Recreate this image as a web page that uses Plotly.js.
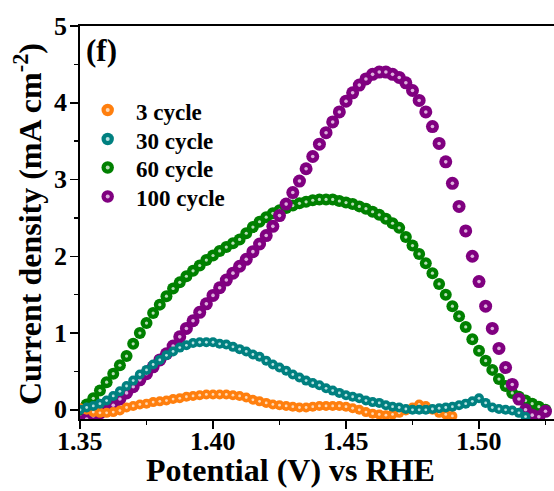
<!DOCTYPE html>
<html>
<head>
<meta charset="utf-8">
<script src="https://cdn.plot.ly/plotly-3.0.1.min.js"></script>
<style>html,body{margin:0;padding:0;background:#fff;}#chart{width:554px;height:491px;}</style>
</head>
<body>
<div id="chart"></div>
<script>
// Potential (V vs RHE)
const potential = [1.3500,1.3525,1.3550,1.3575,1.3600,1.3625,1.3650,1.3675,1.3700,1.3725,
1.3750,1.3775,1.3800,1.3825,1.3850,1.3875,1.3900,1.3925,1.3950,1.3975,
1.4000,1.4025,1.4050,1.4075,1.4100,1.4125,1.4150,1.4175,1.4200,1.4225,
1.4250,1.4275,1.4300,1.4325,1.4350,1.4375,1.4400,1.4425,1.4450,1.4475,
1.4500,1.4525,1.4550,1.4575,1.4600,1.4625,1.4650,1.4675,1.4700,1.4725,
1.4750,1.4775,1.4800,1.4825,1.4850,1.4875,1.4900,1.4925,1.4950,1.4975,
1.5000,1.5025,1.5050,1.5075,1.5100,1.5125,1.5150,1.5175,1.5200,1.5225,1.5250];

const seriesNames = ["3 cycle","30 cycle","60 cycle","100 cycle"];
const seriesColors = ["#ff7f0e","#008080","#008000","#800080"];

// 3 cycle
const cycle3 = [0.02,0.00,-0.03,-0.04,-0.04,-0.03,-0.01,0.03,0.05,0.07,
0.08,0.10,0.11,0.12,0.14,0.15,0.17,0.18,0.19,0.20,
0.20,0.20,0.20,0.19,0.18,0.16,0.13,0.11,0.09,0.07,
0.06,0.05,0.04,0.03,0.03,0.04,0.05,0.05,0.05,0.05,
0.04,0.02,0.00,-0.03,-0.05,-0.06,-0.07,-0.06,-0.04,-0.01,
0.03,0.07,0.05,0.00,-0.04,-0.06,-0.08];

// 30 cycle
const cycle30 = [0.00,0.03,0.05,0.08,0.12,0.18,0.24,0.31,0.38,0.46,
0.52,0.59,0.65,0.71,0.76,0.81,0.84,0.87,0.88,0.88,
0.88,0.86,0.85,0.82,0.79,0.76,0.72,0.69,0.64,0.59,
0.55,0.51,0.46,0.42,0.38,0.35,0.32,0.28,0.25,0.22,
0.19,0.17,0.15,0.12,0.10,0.09,0.06,0.04,0.03,0.01,
0.00,0.00,0.00,0.01,0.02,0.03,0.04,0.06,0.08,0.11,
0.15,0.09,0.03,0.01,0.00,-0.01,-0.04,-0.09];

// 60 cycle
const cycle60 = [0.00,0.07,0.15,0.25,0.36,0.47,0.58,0.70,0.86,1.00,
1.13,1.26,1.37,1.48,1.58,1.66,1.74,1.81,1.88,1.95,
2.01,2.07,2.12,2.17,2.22,2.30,2.38,2.45,2.51,2.56,
2.60,2.63,2.66,2.69,2.71,2.73,2.74,2.74,2.74,2.72,
2.70,2.68,2.65,2.62,2.58,2.54,2.49,2.43,2.37,2.25,
2.14,2.03,1.91,1.78,1.64,1.50,1.35,1.22,1.08,0.92,
0.77,0.64,0.52,0.40,0.31,0.22,0.17,0.12,0.08,0.04,0.00];

// 100 cycle
const cycle100 = [-0.16,-0.12,-0.08,-0.04,-0.01,0.06,0.14,0.22,0.30,0.39,
0.47,0.56,0.65,0.73,0.83,0.95,1.06,1.16,1.27,1.38,
1.49,1.59,1.69,1.78,1.87,1.96,2.06,2.16,2.27,2.39,
2.53,2.68,2.83,2.98,3.14,3.30,3.46,3.61,3.75,3.88,
4.02,4.13,4.23,4.31,4.37,4.40,4.40,4.37,4.33,4.26,
4.16,4.03,3.88,3.69,3.47,3.23,2.95,2.65,2.33,2.00,
1.67,1.35,1.06,0.80,0.55,0.33,0.14,0.00,-0.07,-0.09,-0.02];

const xTickVals = [1.35,1.40,1.45,1.50];
const xTickText = ["1.35","1.40","1.45","1.50"];
const yTickVals = [0,1,2,3,4,5];
const yTickText = ["0","1","2","3","4","5"];
const xTitle = "Potential (V) vs RHE";
const yTitle = "Current density (mA cm<sup>-2</sup>)";
const panelLabel = "(f)";

const allY = [cycle3, cycle30, cycle60, cycle100];
const markerSizes = [10, 10, 12, 13];
const hlSizes = [2.8, 2.8, 3.2, 3.6];
const hlColors = ["rgba(255,240,225,0.8)","rgba(230,250,250,0.8)","rgba(230,245,230,0.8)","rgba(245,220,245,0.8)"];
const drawOrder = [2, 3, 0, 1];

const FONT = "Liberation Serif, Times New Roman, serif";
const traces = [];
drawOrder.forEach(i => {
  const ys = allY[i];
  const xs = potential.slice(0, ys.length);
  traces.push({x: xs, y: ys, type: 'scatter', mode: 'markers', name: seriesNames[i],
    marker: {color: seriesColors[i], size: markerSizes[i], line: {width: 0}},
    showlegend: false, hoverinfo: 'skip'});
  traces.push({x: xs, y: ys, type: 'scatter', mode: 'markers',
    marker: {color: hlColors[i], size: hlSizes[i], line: {width: 0}},
    showlegend: false, hoverinfo: 'skip'});
});

// custom legend in pixel positions converted to paper coords
const L = 80, T = 26, W = 474, H = 393;
const px2x = p => (p - L) / W;
const py2y = p => 1 - (p - T) / H;
const legendRows = [110, 139, 167.5, 196.5];
const shapes = [];
const annotations = [];
seriesNames.forEach((name, i) => {
  const r = 6.2;
  shapes.push({type: 'circle', xref: 'paper', yref: 'paper', xsizemode: 'pixel', ysizemode: 'pixel',
    xanchor: px2x(107.7), yanchor: py2y(legendRows[i]), x0: -r, x1: r, y0: -r, y1: r,
    fillcolor: seriesColors[i], line: {width: 0}});
  shapes.push({type: 'circle', xref: 'paper', yref: 'paper', xsizemode: 'pixel', ysizemode: 'pixel',
    xanchor: px2x(107.7), yanchor: py2y(legendRows[i]), x0: -2, x1: 2, y0: -2, y1: 2,
    fillcolor: hlColors[i], line: {width: 0}});
  annotations.push({xref: 'paper', yref: 'paper', x: px2x(134), y: py2y(legendRows[i] + 2),
    xanchor: 'left', yanchor: 'middle', showarrow: false, text: '<b>' + name + '</b>',
    font: {family: FONT, size: 23, color: '#000'}});
});
annotations.push({xref: 'paper', yref: 'paper', x: px2x(84), y: py2y(50), xanchor: 'left', yanchor: 'middle',
  showarrow: false, text: '<b>' + panelLabel + '</b>', font: {family: FONT, size: 31, color: '#000'}});
// tick labels placed at reference offsets
xTickVals.forEach((v, i) => {
  annotations.push({xref: 'x', yref: 'paper', x: v, y: py2y(442), xanchor: 'center', yanchor: 'middle',
    showarrow: false, borderpad: 0, text: '<b>' + xTickText[i] + '</b>', font: {family: FONT, size: 26, color: '#000'}});
});
yTickVals.forEach((v, i) => {
  annotations.push({xref: 'paper', yref: 'y', x: px2x(68), y: v, xanchor: 'right', yanchor: 'middle',
    showarrow: false, borderpad: 0, text: '<b>' + yTickText[i] + '</b>', font: {family: FONT, size: 26, color: '#000'}});
});
// axis titles placed at the reference pixel positions
annotations.push({xref: 'paper', yref: 'paper', x: px2x(290), y: py2y(470), xanchor: 'center', yanchor: 'middle',
  showarrow: false, borderpad: 0, text: '<b>' + xTitle + '</b>', font: {family: FONT, size: 32, color: '#000'}});
annotations.push({xref: 'paper', yref: 'paper', x: px2x(28), y: py2y(224), xanchor: 'center', yanchor: 'middle',
  textangle: -90, showarrow: false, borderpad: 0, text: '<b>' + yTitle + '</b>', font: {family: FONT, size: 32, color: '#000'}});

const layout = {
  width: 554, height: 491,
  margin: {l: L, r: 0, t: T, b: 491 - T - H},
  paper_bgcolor: '#fff', plot_bgcolor: '#fff',
  showlegend: false,
  font: {family: FONT, color: '#000'},
  xaxis: {
    range: [1.35, 1.35 + 0.05 * W / 133], showgrid: false, zeroline: false,
    tickvals: xTickVals, showticklabels: false,
    ticks: 'outside', ticklen: 8, tickwidth: 1.5, tickcolor: '#000',
    minor: {tickvals: [1.375, 1.425, 1.475, 1.525], ticks: 'outside', ticklen: 4, tickwidth: 1.5, tickcolor: '#000', showgrid: false},
    showline: true, linecolor: '#000', linewidth: 1.8, mirror: true
  },
  yaxis: {
    range: [-0.12, 5], showgrid: false, zeroline: false,
    tickvals: yTickVals, showticklabels: false,
    ticks: 'outside', ticklen: 8, tickwidth: 1.5, tickcolor: '#000',
    minor: {tickvals: [0.5, 1.5, 2.5, 3.5, 4.5], ticks: 'outside', ticklen: 4, tickwidth: 1.5, tickcolor: '#000', showgrid: false},
    showline: true, linecolor: '#000', linewidth: 1.8, mirror: false
  },
  shapes: shapes,
  annotations: annotations
};

Plotly.newPlot('chart', traces, layout, {staticPlot: true, displayModeBar: false});
</script>
</body>
</html>
